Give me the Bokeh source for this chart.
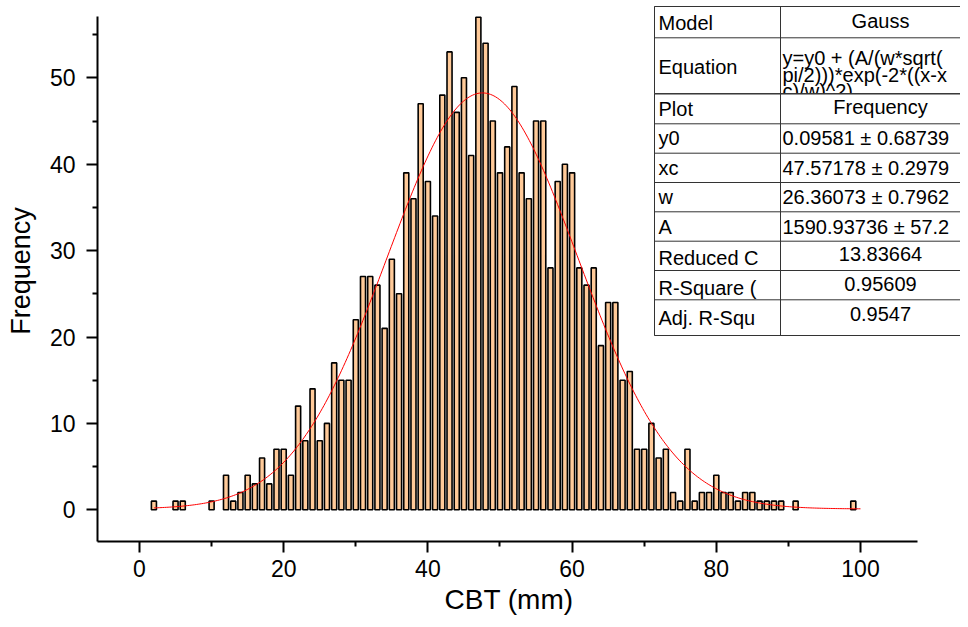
import numpy as np
from bokeh.plotting import figure
from bokeh.models import Range1d, FixedTicker, Title
from bokeh.core.properties import value
from bokeh.embed import file_html
from bokeh.resources import INLINE

# ---------------- data ----------------
cbt_bins = [2, 5, 6, 10,
            12, 13, 14, 15, 16, 17, 18, 19, 20, 21,
            22, 23, 24, 25, 26, 27, 28, 29, 30, 31,
            32, 33, 34, 35, 36, 37, 38, 39, 40, 41,
            42, 43, 44, 45, 46, 47, 48, 49, 50, 51,
            52, 53, 54, 55, 56, 57, 58, 59, 60, 61,
            62, 63, 64, 65, 66, 67, 68, 69, 70, 71,
            72, 73, 74, 75, 76, 77, 78, 79, 80, 81,
            82, 83, 84, 85, 86, 87, 88, 89, 91, 99]
frequency = [1, 1, 1, 1,
             4, 1, 2, 4, 3, 6, 3, 7, 7, 4,
             12, 8, 14, 8, 10, 17, 15, 15, 22, 27,
             27, 26, 21, 29, 25, 39, 36, 47, 38, 34,
             48, 53, 46, 50, 41, 57, 54, 45, 39, 42,
             49, 39, 36, 45, 45, 28, 38, 40, 39, 28,
             26, 28, 19, 24, 24, 15, 16, 7, 7, 10,
             6, 7, 2, 1, 7, 1, 2, 2, 4, 2,
             2, 1, 2, 2, 1, 1, 1, 1, 1, 1]

x_ticks = [0, 20, 40, 60, 80, 100]
x_minor_ticks = [10, 30, 50, 70, 90]
y_ticks = [0, 10, 20, 30, 40, 50]
y_minor_ticks = [5, 15, 25, 35, 45, 55]
x_label = "CBT (mm)"
y_label = "Frequency"

# Gauss fit parameters (from the fit table)
fit_y0 = 0.09581
fit_xc = 47.57178
fit_w = 26.36073
fit_A = 1590.93736
fit_x_min, fit_x_max = 2, 100

table_names = ["Model", "Equation", "Plot", "y0", "xc", "w", "A",
               "Reduced C", "R-Square (", "Adj. R-Squ"]
table_model = "Gauss"
equation_lines = ["y=y0 + (A/(w*sqrt(", "pi/2)))*exp(-2*((x-x", "c)/w)^2)"]
table_plot = "Frequency"
table_params = ["0.09581 \u00b1 0.68739", "47.57178 \u00b1 0.2979",
                "26.36073 \u00b1 0.7962", "1590.93736 \u00b1 57.2"]
table_stats = ["13.83664", "0.95609", "0.9547"]

# ---------------- figure ----------------
FONT_NAME = "Liberation Sans"
FONT = value(FONT_NAME)
X_LO, X_HI = -5.825, 113.87
Y_LO, Y_HI = -3.669, 58.947
p = figure(width=960, height=619, output_backend="svg", toolbar_location=None,
           x_range=Range1d(X_LO, X_HI), y_range=Range1d(Y_LO, Y_HI),
           min_border_left=97, min_border_right=0, min_border_top=0,
           min_border_bottom=78, title=None)
p.outline_line_color = None
p.xgrid.visible = False
p.ygrid.visible = False
p.background_fill_color = "white"
p.border_fill_color = "white"

# pixel-like helper ranges for the fit table (frame spans 97..960 x 541..0)
p.extra_x_ranges = {"tpx": Range1d(97, 960)}
p.extra_y_ranges = {"tpy": Range1d(541, 0)}

for ax in (p.xaxis[0], p.yaxis[0]):
    ax.axis_line_width = 2
    ax.axis_line_color = "black"
    ax.major_tick_line_width = 2
    ax.minor_tick_line_width = 2
    ax.major_tick_line_color = "black"
    ax.minor_tick_line_color = "black"
    ax.major_tick_in = 0
    ax.major_tick_out = 11
    ax.minor_tick_in = 0
    ax.minor_tick_out = 5
    ax.major_label_text_font = FONT_NAME
    ax.major_label_text_font_size = "23px"
    ax.major_label_text_color = "black"

p.xaxis.ticker = FixedTicker(ticks=x_ticks, minor_ticks=x_minor_ticks)
p.yaxis.ticker = FixedTicker(ticks=y_ticks, minor_ticks=y_minor_ticks)
p.xaxis.bounds = (X_LO, 107.9)
p.yaxis.bounds = (Y_LO, 57.1)
p.xaxis.major_label_standoff = 7
p.yaxis.major_label_standoff = 11

# y axis title
p.yaxis.axis_label = y_label
p.yaxis.axis_label_text_font = FONT_NAME
p.yaxis.axis_label_text_font_size = "27px"
p.yaxis.axis_label_text_font_style = "normal"
p.yaxis.axis_label_text_color = "black"
p.yaxis.axis_label_standoff = 11

# x axis title, centred under the drawn axis line
p.add_layout(Title(text=x_label, align="left", offset=347, standoff=5,
                   vertical_align="bottom", text_font=FONT_NAME,
                   text_font_size="28px", text_font_style="normal",
                   text_color="black"), "below")

# bars
p.vbar(x=cbt_bins, top=frequency, bottom=0, width=0.7,
       fill_color="#FFCA99", line_color="black", line_width=1.6)

# Gauss fit curve
cx = np.linspace(fit_x_min, fit_x_max, 400)
cy = fit_y0 + fit_A / (fit_w * np.sqrt(np.pi / 2)) * np.exp(-2 * ((cx - fit_xc) / fit_w) ** 2)
p.line(cx, cy, line_color="#FF0000", line_width=1)

# ---------------- fit table ----------------
T = dict(x_range_name="tpx", y_range_name="tpy")
tbl_left, tbl_mid, tbl_right = 654, 780, 1000
row_edges = [6, 37.3, 93.3, 123.3, 152.7, 182, 211.3, 240.7, 270, 299.3, 335]
border = "#333333"
txt = dict(text_font=FONT, text_font_size="20px", text_color="black",
           text_baseline="middle", **T)

# upper block (Model, Equation)
p.quad(left=[tbl_left], right=[tbl_right], top=[row_edges[0]], bottom=[row_edges[2]],
       fill_color="white", line_color=border, line_width=1, **T)
p.text(x=[880], y=[20], text=[table_model], text_align="center", **txt)
p.text(x=[782] * 3, y=[57.5, 74, 90.5], text=equation_lines, text_align="left", **txt)

# lower block covers the overflowing third equation line
p.quad(left=[tbl_left], right=[tbl_right], top=[row_edges[2]], bottom=[row_edges[-1]],
       fill_color="white", line_color=border, line_width=1, **T)
p.segment(x0=[tbl_left] * len(row_edges), x1=[tbl_right] * len(row_edges),
          y0=row_edges, y1=row_edges, line_color=border, line_width=1, **T)
p.segment(x0=[tbl_mid], x1=[tbl_mid], y0=[row_edges[0]], y1=[row_edges[-1]],
          line_color=border, line_width=1, **T)

name_y = [22, 66, 108, 137.5, 167, 196.5, 226, 257.5, 287.5, 317.5]
p.text(x=[658] * len(table_names), y=name_y, text=table_names, text_align="left", **txt)
p.text(x=[880], y=[106], text=[table_plot], text_align="center", **txt)
p.text(x=[782] * 4, y=[137.5, 167, 196, 226], text=table_params, text_align="left", **txt)
p.text(x=[880] * 3, y=[253.5, 283.5, 313.5], text=table_stats, text_align="center", **txt)

open("out.html", "w").write(file_html(p, INLINE))
